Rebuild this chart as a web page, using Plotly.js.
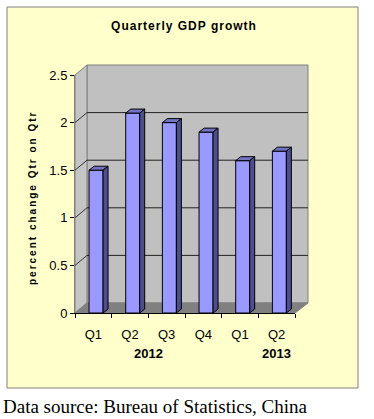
<!DOCTYPE html>
<html>
<head>
<meta charset="utf-8">
<script src="https://cdn.plot.ly/plotly-3.0.1.min.js"></script>
<style>
  html, body { margin:0; padding:0; background:#fff; }
  #chart { width:374px; height:419px; }
  .gtitle { letter-spacing: 1px; }
</style>
</head>
<body>
<div id="chart"></div>
<script>
// ---- data ----
const quarters = ['Q1', 'Q2', 'Q3', 'Q4', 'Q1', 'Q2'];
const growth = [1.5, 2.1, 2.0, 1.9, 1.6, 1.7];
const years = ['2012', '2013'];
const yearPos = [1.5, 5];
const yTicks = [0, 0.5, 1, 1.5, 2, 2.5];

// ---- layout geometry (pixels) ----
const W = 374, H = 419;
const L = 75, R = 79, T = 75, B = 106;
const plotW = W - L - R, plotH = H - T - B;
const X = px => (px - L) / plotW;
const Y = py => (H - B - py) / plotH;

// 3D depth
const depthPx = 12, depthPy = 10;
const yMax = 2.5;
const wallDy = depthPy / plotH * yMax;

// bar pseudo-3D
const OFF = -0.117, BW = 0.382, DX = 0.136, DY = 0.042;

const idx = quarters.map((q, i) => i);

const topX = [], topY = [], sideX = [], sideY = [];
idx.forEach(i => {
  const v = growth[i];
  const x0 = i + OFF, x1 = i + OFF + BW;
  topX.push(x0, x0 + DX, x1 + DX, x1, x0, null);
  topY.push(v, v + DY, v + DY, v, v, null);
  sideX.push(x1, x1 + DX, x1 + DX, x1, x1, null);
  sideY.push(0, DY, v + DY, v, 0, null);
});

const traces = [
  {
    type: 'bar', x: idx, y: growth, width: BW, offset: OFF,
    marker: { color: '#9999FF', line: { color: '#000', width: 1 } },
    hoverinfo: 'skip', showlegend: false
  },
  {
    type: 'scatter', mode: 'lines', x: topX, y: topY, fill: 'toself',
    fillcolor: '#7373C6', line: { color: '#000', width: 1 },
    hoverinfo: 'skip', showlegend: false
  },
  {
    type: 'scatter', mode: 'lines', x: sideX, y: sideY, fill: 'toself',
    fillcolor: '#4D4D8F', line: { color: '#000', width: 1 },
    hoverinfo: 'skip', showlegend: false
  }
];

const frontL = L, frontR = L + plotW, frontB = H - B, frontT = T;
const shapes = [
  // chart area box
  { type: 'rect', xref: 'paper', yref: 'paper', layer: 'below',
    x0: X(7), x1: X(358), y0: Y(388), y1: Y(7),
    fillcolor: '#FFFFCC', line: { color: '#808080', width: 1 } },
  // back wall
  { type: 'rect', xref: 'paper', yref: 'paper', layer: 'below',
    x0: X(frontL + depthPx), x1: X(frontR + depthPx + 1), y0: Y(frontB - depthPy), y1: Y(frontT - depthPy),
    fillcolor: '#C0C0C0', line: { color: '#808080', width: 1 } },
  // side wall
  { type: 'path', xref: 'paper', yref: 'paper', layer: 'below',
    path: `M${X(frontL)},${Y(frontB)} L${X(frontL)},${Y(frontT)} L${X(frontL + depthPx)},${Y(frontT - depthPy)} L${X(frontL + depthPx)},${Y(frontB - depthPy)} Z`,
    fillcolor: '#C4C4C4', line: { color: '#808080', width: 1 } },
  // floor
  { type: 'path', xref: 'paper', yref: 'paper', layer: 'below',
    path: `M${X(frontL)},${Y(frontB)} L${X(frontL + depthPx)},${Y(frontB - depthPy)} L${X(frontR + depthPx + 1)},${Y(frontB - depthPy)} L${X(frontR)},${Y(frontB)} Z`,
    fillcolor: '#808080', line: { color: '#808080', width: 1 } }
];
// gridlines on side and back wall, from tick values
yTicks.filter(v => v > 0 && v < yMax).forEach(v => {
  shapes.push({ type: 'line', xref: 'paper', yref: 'y', layer: 'below',
    x0: 0, y0: v, x1: X(frontL + depthPx), y1: v + wallDy,
    line: { color: '#333', width: 1 } });
  shapes.push({ type: 'line', xref: 'paper', yref: 'y', layer: 'below',
    x0: X(frontL + depthPx), y0: v + wallDy, x1: X(frontR + depthPx + 1), y1: v + wallDy,
    line: { color: '#222', width: 1 } });
});

const annotations = [
  { text: 'percent change Qtr on Qtr', textangle: -90, xref: 'paper', yref: 'paper',
    x: X(32), y: Y(198), xanchor: 'center', yanchor: 'middle', showarrow: false,
    font: { family: 'Arial, Liberation Sans', size: 10, color: '#000', weight: 700 } },
  { text: 'Data source: Bureau of Statistics, China', xref: 'paper', yref: 'paper',
    x: X(1), y: Y(406), xanchor: 'left', yanchor: 'middle', showarrow: false,
    font: { family: 'Liberation Serif, Times New Roman', size: 19, color: '#000' } }
];
years.forEach((yr, k) => {
  annotations.push({ text: yr, xref: 'x', yref: 'paper', x: yearPos[k], y: Y(353),
    xanchor: 'center', yanchor: 'middle', showarrow: false,
    font: { family: 'Arial, Liberation Sans', size: 13, color: '#000', weight: 700 } });
});

const layout = {
  width: W, height: H,
  margin: { l: L, r: R, t: T, b: B, pad: 0 },
  paper_bgcolor: '#FFFFFF',
  plot_bgcolor: 'rgba(0,0,0,0)',
  font: { family: 'Arial, Liberation Sans', size: 13, color: '#000' },
  title: { text: 'Quarterly GDP growth', xref: 'container', yref: 'container',
    x: 184 / W, y: 1 - 26 / H, xanchor: 'center', yanchor: 'middle',
    font: { family: 'Arial, Liberation Sans', size: 12, color: '#000', weight: 700 } },
  xaxis: {
    range: [-0.5, quarters.length - 0.5], tickmode: 'array', tickvals: idx, ticktext: quarters,
    ticks: '', showgrid: false, zeroline: false, showline: true, linecolor: '#000', linewidth: 1,
    ticklabelstandoff: 9, fixedrange: true,
    minor: { tick0: -0.5, dtick: 1, ticks: 'outside', ticklen: 4, tickcolor: '#000', tickwidth: 1, showgrid: false }
  },
  yaxis: {
    range: [0, yMax], tickmode: 'array', tickvals: yTicks,
    ticks: 'outside', ticklen: 4, tickcolor: '#000', tickwidth: 1,
    showgrid: false, zeroline: false, showline: true, linecolor: '#808080', linewidth: 1,
    fixedrange: true
  },
  shapes: shapes,
  annotations: annotations,
  showlegend: false,
  bargap: 0
};

Plotly.newPlot('chart', traces, layout, { staticPlot: true }).then(() => {
  const t = document.querySelector('.annotation[data-index="0"] .annotation-text');
  if (t) t.style.letterSpacing = '2px';
});
</script>
</body>
</html>
